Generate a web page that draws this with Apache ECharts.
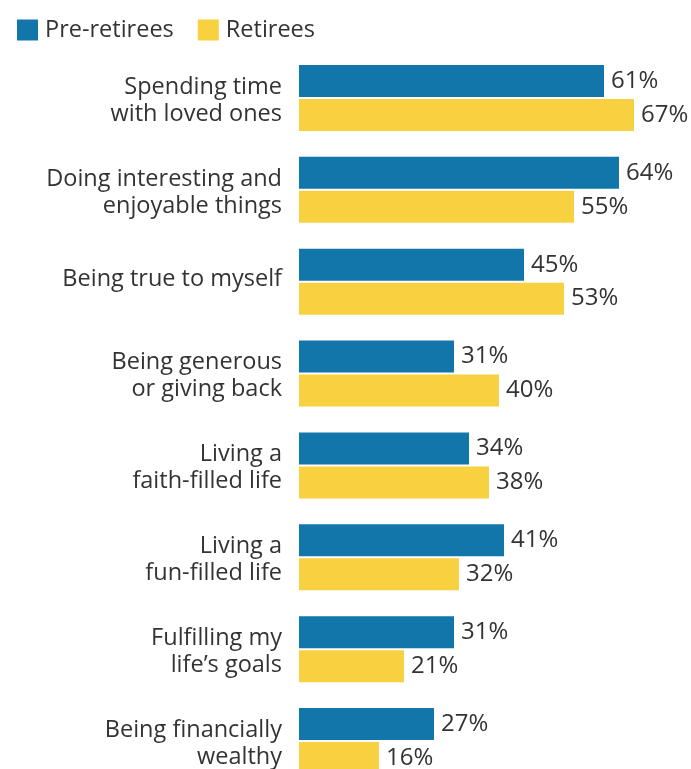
<!DOCTYPE html>
<html><head><meta charset="utf-8">
<script src="https://cdn.jsdelivr.net/npm/echarts@6/dist/echarts.min.js"></script>
<style>html,body{margin:0;padding:0;background:#fff}#c{width:691px;height:769px}</style>
</head><body><div id="c"></div>
<script>
const categories = [
  "Spending time\nwith loved ones",
  "Doing interesting and\nenjoyable things",
  "Being true to myself",
  "Being generous\nor giving back",
  "Living a\nfaith-filled life",
  "Living a\nfun-filled life",
  "Fulfilling my\nlife\u2019s goals",
  "Being financially\nwealthy"
];
const preRetirees = [61, 64, 45, 31, 34, 41, 31, 27];
const retirees = [67, 55, 53, 40, 38, 32, 21, 16];
const seriesNames = ["Pre-retirees", "Retirees"];

const FONT = "Open Sans";
const chart = echarts.init(document.getElementById('c'));
const lbl = {show: true, position: 'right', distance: 7, formatter: '{c}%', color: '#333', fontSize: 24, fontFamily: FONT};
chart.setOption({
  animation: false,
  legend: {
    left: 12, top: 13, itemWidth: 21, itemHeight: 21, itemGap: 24,
    icon: 'rect',
    textStyle: {fontSize: 23.5, color: '#333', fontFamily: FONT, padding: [0,0,0,2]},
    data: seriesNames
  },
  grid: {left: 299, top: 52, width: 350, height: 735, outerBoundsMode: 'none', containLabel: false},
  xAxis: {type: 'value', min: 0, max: 70, show: false},
  yAxis: {
    type: 'category', inverse: true, data: categories,
    axisLine: {show: false}, axisTick: {show: false},
    axisLabel: {
      margin: 17, fontSize: 23.5, lineHeight: 27, color: '#333', fontFamily: FONT, align: 'right',
      formatter: v => v.indexOf('\n') >= 0
        ? '{s| }\n' + v.split('\n').map(t => '{t|' + t + '}').join('\n')
        : '{t|' + v + '}\n{s| }',
      rich: {
        t: {fontSize: 23.5, lineHeight: 27, color: '#333', fontFamily: FONT, align: 'right'},
        s: {fontSize: 1, lineHeight: 5}
      }
    }
  },
  series: [
    {name: seriesNames[0], type: 'bar', data: preRetirees, barWidth: 32, barGap: '6%', itemStyle: {color: '#1276aa'}, label: lbl},
    {name: seriesNames[1], type: 'bar', data: retirees, barWidth: 32, itemStyle: {color: '#f7d13f'}, label: lbl}
  ]
});
</script></body></html>
